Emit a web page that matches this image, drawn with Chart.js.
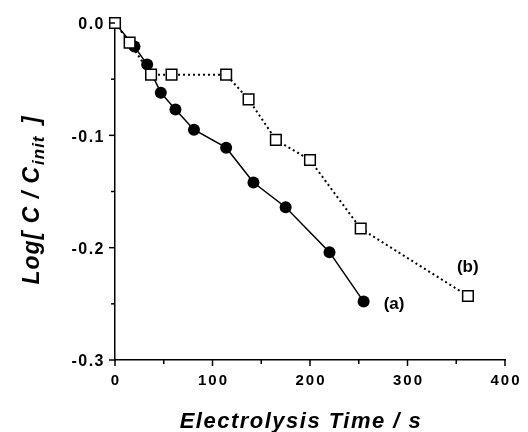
<!DOCTYPE html>
<html><head><meta charset="utf-8">
<script src="https://cdn.jsdelivr.net/npm/chart.js@4"></script>
<style>html,body{margin:0;padding:0;background:#fff}#c{display:block}</style>
</head><body>
<canvas id="c" width="528" height="432"></canvas>
<script>
const timeA = [0, 20, 33, 47, 62, 81, 114, 142, 175, 220, 255];
const logA  = [0, -0.021, -0.037, -0.062, -0.077, -0.095, -0.111, -0.142, -0.164, -0.204, -0.248];
const timeB = [0, 15, 37, 58, 114, 137, 165, 200, 252, 362];
const logB  = [0, -0.0175, -0.046, -0.046, -0.046, -0.068, -0.104, -0.122, -0.183, -0.243];
const xTicks = [0, 100, 200, 300, 400];
const yTicks = [0, -0.1, -0.2, -0.3];
const labelA = '(a)', labelB = '(b)';

const FONT = '"Liberation Sans", Arial, sans-serif';

const decor = {
  id: 'decor',
  afterDraw(chart) {
    const ctx = chart.ctx, xs = chart.scales.x, ys = chart.scales.y;
    ctx.save();
    ctx.strokeStyle = '#000'; ctx.lineWidth = 1.5;
    for (let v = 0; v <= 400; v += 50) {
      const px = xs.getPixelForValue(v), len = (v % 100 === 0) ? 6 : 4;
      ctx.beginPath(); ctx.moveTo(px, ys.bottom); ctx.lineTo(px, ys.bottom + len); ctx.stroke();
    }
    for (let i = 0; i <= 6; i++) {
      const v = -0.05 * i, py = ys.getPixelForValue(v), len = (i % 2 === 0) ? 6 : 4;
      ctx.beginPath(); ctx.moveTo(xs.left, py); ctx.lineTo(xs.left - len, py); ctx.stroke();
    }
    ctx.fillStyle = '#000';
    ctx.textBaseline = 'middle';
    // x tick labels
    ctx.font = 'bold 15px ' + FONT;
    ctx.letterSpacing = '2px';
    ctx.textAlign = 'center';
    xTicks.forEach(v => {
      ctx.fillText(String(v), xs.getPixelForValue(v) + 1, ys.bottom + 21);
    });
    // y tick labels
    ctx.letterSpacing = '1.5px';
    ctx.font = 'bold 16px ' + FONT;
    ctx.textAlign = 'right';
    yTicks.forEach(v => {
      ctx.fillText(v === 0 ? '0.0' : v.toFixed(1), xs.left - 10, ys.getPixelForValue(v) + 2);
    });
    ctx.letterSpacing = '0px';
    // series labels
    ctx.font = 'bold 17px ' + FONT;
    ctx.textAlign = 'left';
    ctx.fillText(labelA, xs.getPixelForValue(timeA[timeA.length - 1]) + 20, ys.getPixelForValue(logA[logA.length - 1]) + 3);
    ctx.fillText(labelB, xs.getPixelForValue(timeB[timeB.length - 1]) - 11, ys.getPixelForValue(logB[logB.length - 1]) - 29);
    // x title
    ctx.font = 'italic bold 22px ' + FONT;
    ctx.letterSpacing = '1.5px';
    ctx.textAlign = 'center';
    ctx.fillText('Electrolysis Time / s', 301, 422);
    // y title with subscript
    ctx.letterSpacing = '1px';
    ctx.translate(33, 200);
    ctx.rotate(-Math.PI / 2);
    const big = 'italic bold 23px ' + FONT, small = 'italic bold 17px ' + FONT;
    const parts = [['Log[ C / C', big, 0, 1], ['init', small, 6, 4], [' ]', big, 0, 0]];
    let w = 0;
    parts.forEach(p => { ctx.font = p[1]; w += ctx.measureText(p[0]).width + p[3]; });
    let x = -w / 2;
    ctx.textAlign = 'left';
    parts.forEach(p => {
      ctx.font = p[1];
      ctx.fillText(p[0], x, p[2]);
      x += ctx.measureText(p[0]).width + p[3];
    });
    ctx.restore();
  }
};

new Chart(document.getElementById('c'), {
  type: 'scatter',
  data: {
    datasets: [
      {
        label: 'b',
        data: timeB.map((t, i) => ({x: t, y: logB[i]})),
        showLine: true, borderColor: '#000', borderWidth: 2, borderDash: [2, 3],
        pointStyle: 'rect', pointRadius: 7.5, pointBackgroundColor: '#fff',
        pointBorderColor: '#000', pointBorderWidth: 1.5, clip: false, order: 1
      },
      {
        label: 'a',
        data: timeA.map((t, i) => ({x: t, y: logA[i]})),
        showLine: true, borderColor: '#000', borderWidth: 1.5,
        pointStyle: 'circle', pointRadius: 6, pointBackgroundColor: '#000',
        pointBorderColor: '#000', pointBorderWidth: 0, clip: false, order: 2
      }
    ]
  },
  options: {
    responsive: false, animation: false,
    layout: {padding: {top: 23, right: 23, left: 0, bottom: 0}},
    plugins: {legend: {display: false}, tooltip: {enabled: false}},
    scales: {
      x: {
        type: 'linear', min: 0, max: 400,
        grid: {display: false},
        border: {display: true, color: '#000', width: 1.5},
        ticks: {display: false, stepSize: 100},
        afterFit(s) { s.height = 72; }
      },
      y: {
        type: 'linear', min: -0.3, max: 0,
        grid: {display: false},
        border: {display: true, color: '#000', width: 1.5},
        ticks: {display: false, stepSize: 0.1},
        afterFit(s) { s.width = 115; }
      }
    }
  },
  plugins: [decor]
});
</script>
</body></html>
